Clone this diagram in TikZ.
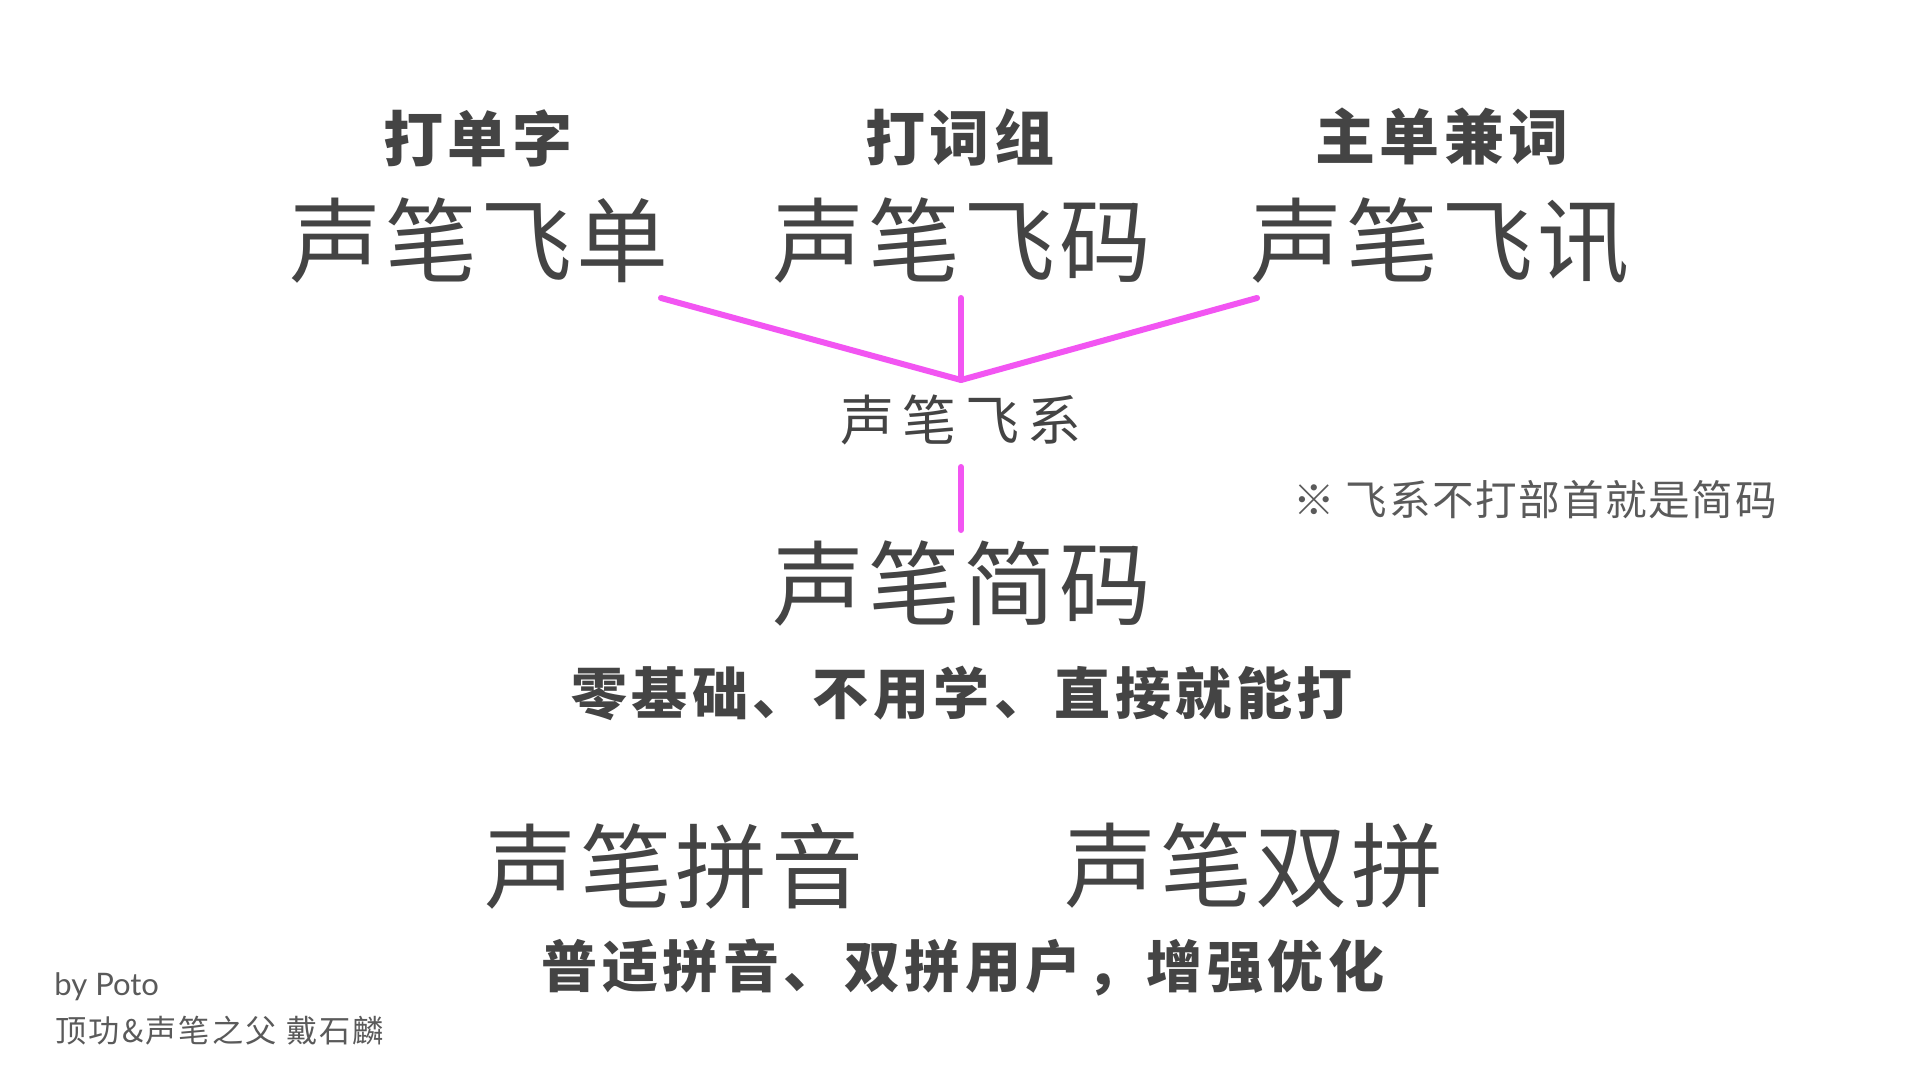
\documentclass[tikz,border=0pt]{standalone}
\usepackage{fontspec}
\setmainfont{Noto Sans CJK SC}
\newfontfamily\cjkbig{Noto Sans CJK SC}[LetterSpace=4]
\newfontfamily\cjkhead{Noto Sans CJK SC}[LetterSpace=7]
\newfontfamily\cjkmid{Noto Sans CJK SC}[LetterSpace=15]
\newfontfamily\cjksub{Noto Sans CJK SC}[LetterSpace=8]
\newfontfamily\cjknote{Noto Sans CJK SC}[LetterSpace=4]
\newfontfamily\cjkfoot{Noto Sans CJK SC}[LetterSpace=7]
\newfontfamily\latinf{Lato}
\definecolor{txt}{HTML}{444444}
\definecolor{softtxt}{HTML}{5A5A5A}
\definecolor{pinkline}{HTML}{F255F2}
\tikzset{
  bigname/.style={font=\cjkbig\fontsize{46}{50}\selectfont, text=txt, inner sep=0pt, anchor=center},
  headlbl/.style={font=\cjkhead\bfseries\fontsize{30}{34}\selectfont, text=txt, inner sep=0pt, anchor=center},
  midname/.style={font=\cjkmid\fontsize{27}{30}\selectfont, text=txt, inner sep=0pt, anchor=center},
  sublbl/.style={font=\cjksub\bfseries\fontsize{28}{32}\selectfont, text=txt, inner sep=0pt, anchor=center},
  notelbl/.style={font=\cjknote\fontsize{20.8}{24}\selectfont, text=softtxt, inner sep=0pt, anchor=center},
  footlbl/.style={text=softtxt, inner sep=0pt, anchor=west},
  link/.style={draw=pinkline, line width=3pt, line cap=round, line join=round}
}
\begin{document}
\begin{tikzpicture}[x=0.5pt,y=-0.5pt]
\useasboundingbox[fill=white] (0,0) rectangle (1920,1080);
% top labels
\node[headlbl] (h1) at (478,138) {打单字};
\node[headlbl] (h2) at (960,138) {打词组};
\node[headlbl] (h3) at (1442,137) {主单兼词};
% top names
\node[bigname] (n1) at (479,241) {声笔飞单};
\node[bigname] (n2) at (962,241) {声笔飞码};
\node[bigname] (n3) at (1440,241) {声笔飞讯};
% middle
\node[midname] (fx) at (961,420) {声笔飞系};
\node[bigname] (jm) at (962,584) {声笔简码};
\node[sublbl] (d1) at (962,693) {零基础、不用学、直接就能打};
\node[notelbl] (note) at (1535,500) {※ 飞系不打部首就是简码};
% bottom
\node[bigname] (py) at (674,866) {声笔拼音};
\node[bigname] (sp) at (1254,866) {声笔双拼};
\node[sublbl] (d2) at (963,968) {普适拼音、双拼用户，增强优化};
% footer
\node[footlbl, font=\latinf\fontsize{15.5}{18}\selectfont] (by) at (54,987) {by Poto};
\node[footlbl, font=\cjkfoot\fontsize{15.6}{19}\selectfont] (au) at (55,1031) {顶功\&声笔之父 戴石麟};
% connectors
\coordinate (s1) at (661,298);
\coordinate (s2) at (961,298);
\coordinate (s3) at (1257,298);
\coordinate (jn) at (961,380);
\coordinate (t1) at (961,467);
\coordinate (t2) at (961,530);
\draw[link] (s1) -- (jn) -- (s3);
\draw[link] (s2) -- (jn);
\draw[link] (t1) -- (t2);
\end{tikzpicture}
\end{document}
